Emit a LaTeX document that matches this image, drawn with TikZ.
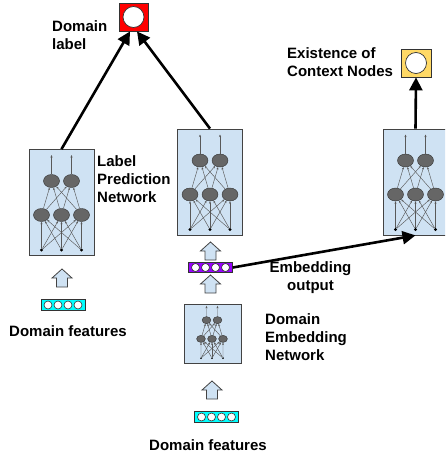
\documentclass[tikz,border=0pt]{standalone}
\usepackage{fontspec}
\setmainfont{Liberation Sans}
\usetikzlibrary{arrows.meta,shapes.geometric}
\definecolor{boxblue}{HTML}{CFE2F3}
\definecolor{edgegray}{HTML}{434343}
\definecolor{neurongray}{HTML}{666666}
\definecolor{vecpurple}{HTML}{9900FF}
\definecolor{veccyan}{HTML}{00FFFF}
\definecolor{ylw}{HTML}{FFD966}
\tikzset{
  netbox/.style={rectangle, draw=edgegray, line width=0.8pt, fill=boxblue, minimum width=65pt, minimum height=106pt, inner sep=0pt},
  neuron/.style={ellipse, draw=black!80, line width=0.4pt, fill=neurongray, minimum width=16pt, minimum height=13pt, inner sep=0pt},
  indot/.style={circle, fill=black, inner sep=0pt, minimum size=3.2pt},
  conn/.style={draw=black!65, line width=0.45pt, -{Stealth[length=2.5pt,width=2pt]}},
  bigarrow/.style={draw=black, line width=2.6pt, -{Triangle[length=13pt,width=13pt]}},
  blockarrow/.style={draw=edgegray, line width=0.8pt, fill=boxblue, line join=miter},
  vecbox/.style={rectangle, draw=black!80, line width=0.7pt, minimum width=44pt, minimum height=10.5pt, inner sep=0pt},
  vcirc/.style={circle, draw=black!80, fill=white, minimum size=8pt, inner sep=0pt, line width=0.6pt},
  lbl/.style={inner sep=0pt, align=left, text=black},
  pics/nnet/.style={code={
    \foreach \i/\x in {1/-20,2/0,3/20}{\node[indot] (-i\i) at (\x,47.5) {};}
    \foreach \i/\x in {1/-20,2/0,3/20}{\node[neuron] (-h\i) at (\x,12.5) {};}
    \foreach \i/\x in {1/-10,2/10}{\node[neuron] (-o\i) at (\x,-21.5) {};}
    \foreach \i/\x in {1/-10,2/10}{\coordinate (-t\i) at (\x,-47.5);}
    \foreach \a in {1,2,3}{\foreach \b in {1,2,3}{\draw[conn] (-i\a) -- (-h\b);}}
    \foreach \a in {1,2,3}{\foreach \b in {1,2}{\draw[conn] (-h\a) -- (-o\b);}}
    \foreach \a in {1,2}{\draw[conn] (-o\a) -- (-t\a);}
  }},
  pics/uparr/.style={code={
    \draw[blockarrow] (0,0) -- (10,9) -- (5.5,9) -- (5.5,18) -- (-5.5,18) -- (-5.5,9) -- (-10,9) -- cycle;
  }},
  pics/fvec/.style={code={
    \node[vecbox, fill=#1] (-box) at (0,0) {};
    \foreach \k/\xx in {1/-15,2/-5,3/5,4/15}{\node[vcirc] (-c\k) at (\xx,0) {};}
  }}
}
\begin{document}
\begin{tikzpicture}[x=1pt,y=-1pt,font=\fontsize{15}{18}\selectfont\bfseries]
\clip (0,0) rectangle (445,457);
% network boxes
\node[netbox] (lbox) at (61.5,202.5) {};
\node[netbox] (mbox) at (210,182) {};
\node[netbox] (rbox) at (415.5,182) {};
\node[netbox, minimum width=57pt, minimum height=59pt] (ebox) at (212.5,333.5) {};
\pic (ln) at (lbox.center) {nnet};
\pic (mn) at (mbox.center) {nnet};
\pic (rn) at (rbox.center) {nnet};
\pic[scale=0.55, transform shape] (en) at (212,332) {nnet};
% outputs
\node[rectangle, draw=black!80, line width=0.8pt, fill=red, minimum width=29pt, minimum height=28pt, inner sep=0pt] (dl) at (133.5,17) {};
\node[circle, draw=black!80, line width=0.7pt, fill=white, minimum size=21pt, inner sep=0pt] (dlc) at (dl.center) {};
\node[rectangle, draw=black!80, line width=0.8pt, fill=ylw, minimum width=30pt, minimum height=28pt, inner sep=0pt] (yl) at (416,63) {};
\node[circle, draw=black!80, line width=0.7pt, fill=white, minimum size=21pt, inner sep=0pt] (ylc) at (yl.center) {};
% block arrows
\pic (ua1) at (62,269) {uparr};
\pic (ua2) at (210.5,242) {uparr};
\pic (ua3) at (210.5,275) {uparr};
\pic (ua4) at (212,381) {uparr};
% feature vectors
\pic (fv1) at (63,305) {fvec=veccyan};
\pic (pv) at (210.5,267.5) {fvec=vecpurple};
\pic (fv2) at (216.5,417) {fvec=veccyan};
% main arrows
\draw[bigarrow] (lbox.north) -- ([xshift=-3.5pt]dl.south);
\draw[bigarrow] (mbox.north) -- ([xshift=3.5pt]dl.south);
\draw[bigarrow] (rbox.north) -- (yl.south);
\draw[bigarrow] (pv-box.east) -- (rbox.south);
% labels
\node[lbl, anchor=west] (tdl) at (52,35.5) {Domain\\label};
\node[lbl, anchor=west] (tlp) at (97,179) {Label\\Prediction\\Network};
\node[lbl, anchor=west] (tex) at (287,62.5) {Existence of\\Context Nodes};
\node[lbl, align=center] (teo) at (310.5,277.5) {Embedding\\output};
\node[lbl, anchor=west] (ten) at (265,337) {Domain\\Embedding\\Network};
\node[lbl] (tdf1) at (68,331) {Domain features};
\node[lbl] (tdf2) at (208,445) {Domain features};
\end{tikzpicture}
\end{document}
